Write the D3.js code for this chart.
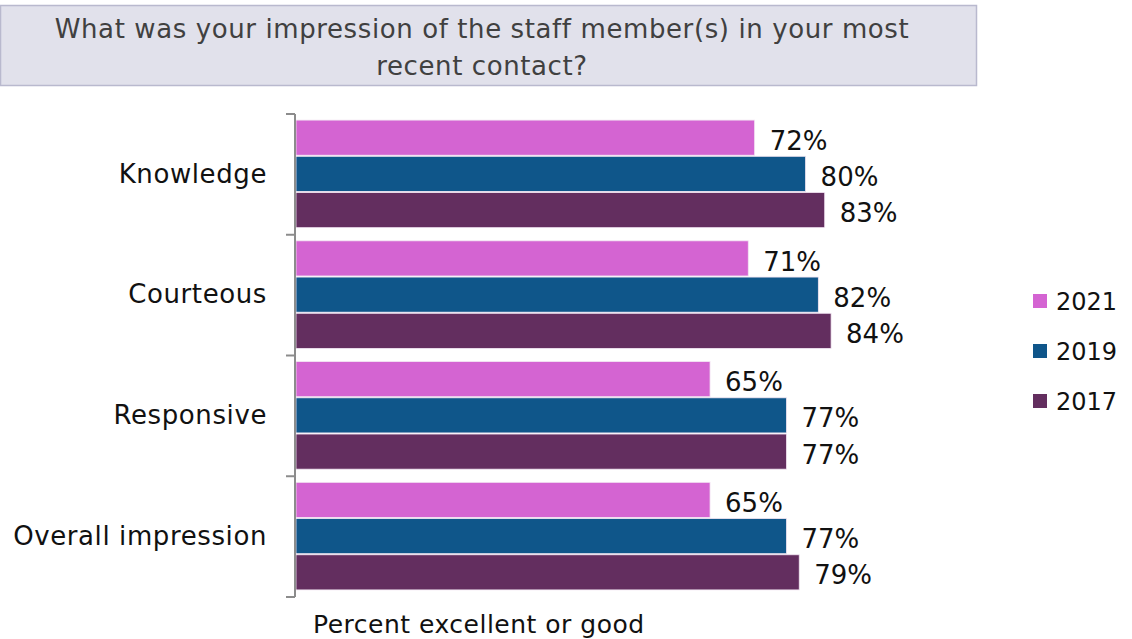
<!DOCTYPE html>
<html>
<head>
<meta charset="utf-8">
<script src="https://cdn.jsdelivr.net/npm/d3@7"></script>
<style>
  body { margin: 0; background: #fff; }
  text { font-family: "DejaVu Sans", sans-serif; }
</style>
</head>
<body>
<div id="chart"></div>
<script>
// chart data
var categories = ["Knowledge", "Courteous", "Responsive", "Overall impression"];
var years = ["2021", "2019", "2017"];
var values2021 = [72, 71, 65, 65];
var values2019 = [80, 82, 77, 77];
var values2017 = [83, 84, 77, 79];
var colors = ["#D464D2", "#0F568A", "#632E5F"];

var series = [values2021, values2019, values2017];

var W = 1132, H = 639;
var svg = d3.select("#chart").append("svg")
    .attr("width", W)
    .attr("height", H);

// title box
svg.append("rect")
    .attr("x", 0.5).attr("y", 5.5)
    .attr("width", 976).attr("height", 80)
    .attr("fill", "#E1E1EB")
    .attr("stroke", "#B9B9CE")
    .attr("stroke-width", 1.5);

var titleLines = ["What was your impression of the staff member(s) in your most", "recent contact?"];
svg.selectAll(".title")
    .data(titleLines)
    .enter().append("text")
    .attr("class", "title")
    .attr("x", 482)
    .attr("y", function(d, i) { return 29 + i * 37; })
    .attr("dy", "0.35em")
    .attr("text-anchor", "middle")
    .attr("fill", "#404040")
    .style("font-size", "26px")
    .style("letter-spacing", "0.6px")
    .text(function(d) { return d; });

// scales
var x = d3.scaleLinear().domain([0, 100]).range([296, 933]);
var y = d3.scaleBand().domain(categories).range([114, 597]).paddingInner(0).paddingOuter(0);
var yInner = d3.scaleBand().domain(years).range([5, y.bandwidth() - 6]).padding(0.03);

// bars
var groups = svg.selectAll(".cat")
    .data(categories)
    .enter().append("g")
    .attr("class", "cat")
    .attr("transform", function(d) { return "translate(0," + y(d) + ")"; });

groups.each(function(cat, ci) {
    var g = d3.select(this);
    years.forEach(function(yr, si) {
        var v = series[si][ci];
        g.append("rect")
            .attr("x", x(0))
            .attr("y", yInner(yr))
            .attr("width", x(v) - x(0))
            .attr("height", yInner.bandwidth())
            .attr("fill", colors[si])
            .attr("stroke", "#f3e6f3")
            .attr("stroke-width", 0.8);
        g.append("text")
            .attr("x", x(v) + 15)
            .attr("y", yInner(yr) + yInner.bandwidth() / 2 + 3)
            .attr("dy", "0.35em")
            .attr("fill", "#111")
            .style("font-size", "26px")
            .text(v + "%");
    });
});

// axis
var axis = d3.axisLeft(y).tickSize(0).tickPadding(28);
var axisG = svg.append("g")
    .attr("transform", "translate(" + (x(0) - 1) + ",0)")
    .call(axis);
axisG.select(".domain").remove();
axisG.selectAll("text")
    .attr("fill", "#111")
    .style("font-size", "26px")
    .style("letter-spacing", "0.6px")
    .style("font-family", "DejaVu Sans, sans-serif");

// category boundary ticks
var bounds = categories.map(function(c) { return y(c); }).concat([y.range()[1]]);
svg.append("line")
    .attr("x1", x(0) - 1).attr("x2", x(0) - 1)
    .attr("y1", 114).attr("y2", 597)
    .attr("stroke", "#8c8c8c").attr("stroke-width", 2);
svg.selectAll(".btick")
    .data(bounds)
    .enter().append("line")
    .attr("class", "btick")
    .attr("x1", x(0) - 10).attr("x2", x(0) - 1)
    .attr("y1", function(d) { return d; }).attr("y2", function(d) { return d; })
    .attr("stroke", "#8c8c8c").attr("stroke-width", 2);

// axis title
svg.append("text")
    .attr("x", 313)
    .attr("y", 624)
    .attr("dy", "0.35em")
    .attr("fill", "#111")
    .style("font-size", "25px")
    .style("letter-spacing", "0.5px")
    .text("Percent excellent or good");

// legend
var legend = svg.selectAll(".legend")
    .data(years)
    .enter().append("g")
    .attr("class", "legend")
    .attr("transform", function(d, i) { return "translate(1033," + (301 + i * 50) + ")"; });
legend.append("rect")
    .attr("x", 0).attr("y", -7)
    .attr("width", 14).attr("height", 14)
    .attr("fill", function(d, i) { return colors[i]; });
legend.append("text")
    .attr("x", 23)
    .attr("y", 1)
    .attr("dy", "0.35em")
    .attr("fill", "#111")
    .style("font-size", "24px")
    .text(function(d) { return d; });
</script>
</body>
</html>
